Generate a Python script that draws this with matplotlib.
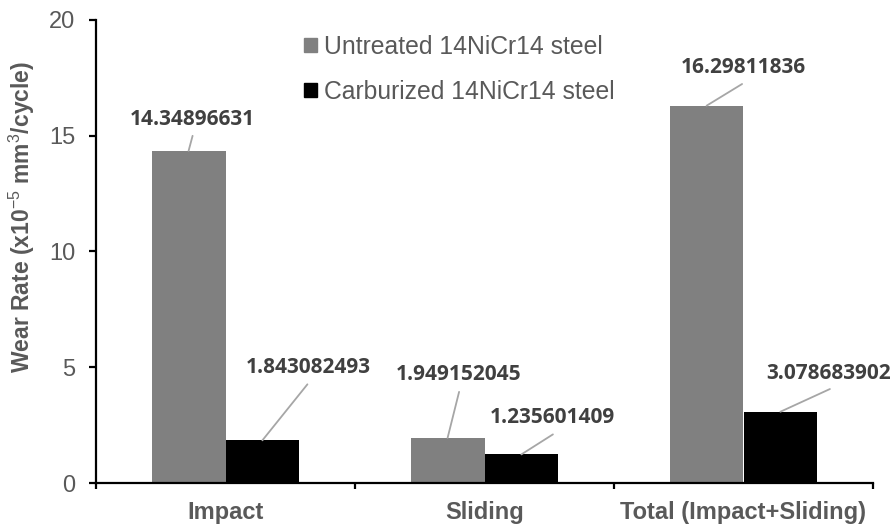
import numpy as np
import matplotlib
matplotlib.use("Agg")
import matplotlib.pyplot as plt
from matplotlib.patches import Patch

# data
categories = ["Impact", "Sliding", "Total (Impact+Sliding)"]
untreated = [14.34896631, 1.949152045, 16.29811836]
carburized = [1.843082493, 1.235601409, 3.078683902]
series_names = ["Untreated 14NiCr14 steel", "Carburized 14NiCr14 steel"]
yticks = [0, 5, 10, 15, 20]

# label placement (pixel offsets from bar top: text centre, line start)
untreated_text = [(4, 31.5), (11.5, 63.5), (37, 37.7)]
untreated_line = [(4, 15), (11.5, 46), (35.5, 21.7)]
carburized_text = [(45.5, 73), (30.5, 36.5), (48.5, 38.7)]
carburized_line = [(45, 56), (31.5, 20), (49.5, 22.7)]

plt.rcParams['font.family'] = ['Liberation Sans', 'DejaVu Sans']
plt.rcParams['mathtext.fontset'] = 'custom'
plt.rcParams['mathtext.rm'] = 'Liberation Sans'
plt.rcParams['mathtext.it'] = 'Liberation Sans'
plt.rcParams['mathtext.bf'] = 'Liberation Sans:bold'

fig = plt.figure(figsize=(8.93, 5.27), dpi=100)
ax = fig.add_axes([96/893, 1-483/527, 777/893, 463/527])

x = np.arange(len(categories))
w = 0.285
ax.bar(x - w/2, untreated, w, color='#808080', label=series_names[0])
ax.bar(x + w/2, carburized, w, color='#000000', label=series_names[1])

def label_bars(xs, vals, text_off, line_off):
    for xi, v, (tx, ty), (lx, ly) in zip(xs, vals, text_off, line_off):
        ax.annotate(f"{v:.10g}", xy=(xi, v), xytext=(tx, ty),
                    textcoords='offset pixels', ha='center', va='center',
                    fontsize=15, fontweight='bold', family='Open Sans', color='#404040')
        ax.annotate("", xy=(xi, v), xytext=(lx, ly), textcoords='offset pixels',
                    arrowprops=dict(arrowstyle='-', color='#a6a6a6', lw=1.3,
                                    shrinkA=0, shrinkB=0))

label_bars(x - w/2, untreated, untreated_text, untreated_line)
label_bars(x + w/2, carburized, carburized_text, carburized_line)

ax.set_xlim(-0.5, len(categories) - 0.5)
ax.set_ylim(0, 20)
ax.set_yticks(yticks)
ax.set_xticks(x)
ax.set_xticklabels(categories, fontsize=17, fontweight='bold', color='#595959')
ax.set_xticks(np.arange(len(categories) + 1) - 0.5, minor=True)
ax.tick_params(axis='x', which='major', length=0, pad=13)
ax.tick_params(axis='x', which='minor', length=4.5, width=1.6, direction='out')
ax.tick_params(axis='y', length=5, width=1.6, direction='out', pad=10,
               labelsize=17, labelcolor='#595959')

for s in ['top', 'right']:
    ax.spines[s].set_visible(False)
for s in ['left', 'bottom']:
    ax.spines[s].set_linewidth(1.6)

ax.set_ylabel(r"Wear Rate (x10$^{\mathrm{-5}}$ mm$^{\mathrm{3}}$/cycle)",
              fontsize=16.5, fontweight='bold', color='#595959')
ax.yaxis.set_label_coords(-0.076, 0.575)

handles = [Patch(color='#808080'), Patch(color='#000000')]
fig.legend(handles, series_names, loc='upper left', bbox_to_anchor=(304/893, 1-35/527),
           frameon=False, fontsize=17.8, labelcolor='#595959', handlelength=0.52,
           handleheight=0.52, handletextpad=0.3, labelspacing=0.85,
           borderpad=0, borderaxespad=0)

fig.savefig("out.png", dpi=100)
